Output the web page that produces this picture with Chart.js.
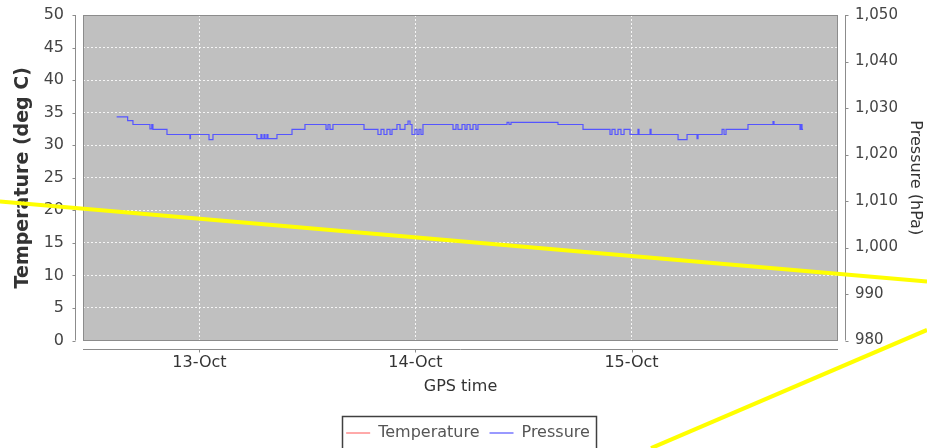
<!DOCTYPE html>
<html>
<head>
<meta charset="utf-8">
<script src="https://cdn.jsdelivr.net/npm/chart.js"></script>
<style>
  html, body { margin: 0; padding: 0; background: #fff; overflow: hidden; }
  canvas { display: block; }
</style>
</head>
<body>
<canvas id="myChart" width="927" height="448"></canvas>
<script>
// hours counted from 13-Oct 00:00
var tickHours = [0, 24, 48];
var tickLabels = ['13-Oct', '14-Oct', '15-Oct'];

var pressureHours = [-9.2, -7.98, -7.39, -5.5, -5.3, -5.17, -3.61, -1.06, -1.0, 1.06, 1.5,
    6.39, 6.83, 6.94, 7.17, 7.28, 7.5, 7.61, 8.61, 10.28, 11.72, 14.06, 14.28, 14.5, 14.83,
    18.28, 19.83, 20.17, 20.5, 20.83, 21.17, 21.39, 21.94, 22.28, 22.83, 23.17, 23.39, 23.61,
    23.94, 24.17, 24.39, 24.61, 24.83, 28.17, 28.5, 28.72, 29.17, 29.5, 29.72, 30.06, 30.39,
    30.72, 30.94, 34.17, 34.39, 34.61, 39.83, 42.61, 45.61, 45.83, 46.17, 46.5, 46.83, 47.17,
    47.83, 48.72, 48.83, 50.06, 50.17, 53.17, 54.17, 55.28, 55.39, 58.06, 58.28, 58.5, 60.94,
    63.72, 63.83, 66.72, 66.83, 66.94, 67.06];
var pressureHpa = [1028.1, 1027.3, 1026.45, 1025.5, 1026.45, 1025.4, 1024.3, 1023.4, 1024.3, 1023.2, 1024.3,
    1023.4, 1024.3, 1023.4, 1024.3, 1023.4, 1024.3, 1023.4, 1024.3, 1025.4, 1026.45, 1025.4, 1026.45, 1025.4, 1026.45,
    1025.4, 1024.3, 1025.4, 1024.3, 1025.4, 1024.3, 1025.4, 1026.45, 1025.4, 1026.45, 1027.2, 1026.45, 1024.3,
    1025.4, 1024.3, 1025.4, 1024.3, 1026.45, 1025.4, 1026.45, 1025.4, 1026.45, 1025.4, 1026.45, 1025.4, 1026.45,
    1025.4, 1026.45, 1026.9, 1026.45, 1026.9, 1026.45, 1025.4, 1024.3, 1025.4, 1024.3, 1025.4, 1024.3, 1025.4,
    1024.3, 1025.4, 1024.3, 1025.4, 1024.3, 1023.2, 1024.3, 1023.4, 1024.3, 1025.4, 1024.3, 1025.4, 1026.45,
    1027.1, 1026.45, 1025.4, 1026.45, 1025.4, 1025.4];

var temperatureHours = [];
var temperatureDegC = [];

// yellow strokes drawn over the picture
var markHoursA = [-22.17, 80.83];
var markDegCA = [21.35, 9.05];
var markHoursB = [50.17, 80.83];
var markDegCB = [-16.54, 1.62];

function toPoints(xs, ys) {
    return xs.map(function (x, i) { return { x: x, y: ys[i] }; });
}

var fontFamily = '"DejaVu Sans", sans-serif';
var gridColor = 'rgba(255,255,255,0.85)';

var plotFrame = {
    id: 'plotFrame',
    beforeDraw: function (chart) {
        var ctx = chart.ctx, a = chart.chartArea;
        ctx.save();
        ctx.fillStyle = '#ffffff';
        ctx.fillRect(0, 0, chart.width, chart.height);
        ctx.fillStyle = '#c0c0c0';
        ctx.fillRect(a.left, a.top, a.right - a.left, a.bottom - a.top);
        ctx.restore();
    },
    beforeDatasetsDraw: function (chart) {
        var ctx = chart.ctx, a = chart.chartArea, s = chart.scales, gap = 8;
        ctx.save();
        ctx.strokeStyle = '#8c8c8c';
        ctx.lineWidth = 1;
        ctx.strokeRect(Math.round(a.left) + 0.5, Math.round(a.top) + 0.5,
            Math.round(a.right - a.left) - 1, Math.round(a.bottom - a.top) - 1);

        ctx.beginPath();
        var lx = Math.round(a.left - gap) + 0.5;
        ctx.moveTo(lx, a.top); ctx.lineTo(lx, a.bottom);
        s.y.ticks.forEach(function (t) {
            var py = Math.round(s.y.getPixelForValue(t.value)) + 0.5;
            ctx.moveTo(lx - 3, py); ctx.lineTo(lx, py);
        });
        var rx = Math.round(a.right + gap) - 0.5;
        ctx.moveTo(rx, a.top); ctx.lineTo(rx, a.bottom);
        s.y1.ticks.forEach(function (t) {
            var py = Math.round(s.y1.getPixelForValue(t.value)) + 0.5;
            ctx.moveTo(rx, py); ctx.lineTo(rx + 3, py);
        });
        var by = Math.round(a.bottom + gap) + 0.5;
        ctx.moveTo(a.left, by); ctx.lineTo(a.right, by);
        s.x.ticks.forEach(function (t) {
            var px = Math.round(s.x.getPixelForValue(t.value)) + 0.5;
            ctx.moveTo(px, by); ctx.lineTo(px, by + 3);
        });
        ctx.stroke();

        // frame round the legend
        var boxes = chart.legend && chart.legend.legendHitBoxes;
        if (boxes && boxes.length) {
            var first = boxes[0], last = boxes[boxes.length - 1];
            var l = first.left - 4, r = last.left + last.width + 6.5, t = first.top - 9.5;
            ctx.strokeStyle = '#404040';
            ctx.lineWidth = 1.5;
            ctx.strokeRect(Math.round(l) + 0.5, Math.round(t) + 0.5, Math.round(r - l), chart.height - t + 10);
        }
        ctx.restore();
    }
};

new Chart(document.getElementById('myChart'), {
    type: 'line',
    data: {
        datasets: [{
            label: 'Temperature',
            data: toPoints(temperatureHours, temperatureDegC),
            borderColor: '#ff5555',
            backgroundColor: '#ff5555',
            borderWidth: 1,
            pointRadius: 0,
            yAxisID: 'y'
        }, {
            label: 'Pressure',
            data: toPoints(pressureHours, pressureHpa),
            borderColor: '#5555ff',
            backgroundColor: '#5555ff',
            borderWidth: 1.2,
            pointRadius: 0,
            stepped: true,
            yAxisID: 'y1'
        }, {
            label: 'markA',
            data: toPoints(markHoursA, markDegCA),
            borderColor: '#ffff00',
            borderWidth: 4,
            pointRadius: 0,
            clip: false,
            yAxisID: 'y'
        }, {
            label: 'markB',
            data: toPoints(markHoursB, markDegCB),
            borderColor: '#ffff00',
            borderWidth: 4,
            pointRadius: 0,
            clip: false,
            yAxisID: 'y'
        }]
    },
    options: {
        responsive: false,
        animation: false,
        events: [],
        layout: { autoPadding: false, padding: { left: 9, right: 0, top: 15, bottom: -3 } },
        plugins: {
            tooltip: { enabled: false },
            legend: {
                position: 'bottom',
                labels: {
                    usePointStyle: true,
                    pointStyle: 'line',
                    pointStyleWidth: 24,
                    padding: 10,
                    color: '#555',
                    font: { family: fontFamily, size: 16 },
                    filter: function (item) { return item.datasetIndex < 2; }
                }
            }
        },
        scales: {
            x: {
                type: 'linear',
                position: 'bottom',
                min: -12.94,
                max: 70.94,
                afterBuildTicks: function (scale) {
                    scale.ticks = tickHours.map(function (v) { return { value: v }; });
                },
                afterFit: function (scale) {
                    scale.height = 74.5;
                    scale.paddingLeft = 0;
                    scale.paddingRight = 0;
                },
                ticks: {
                    autoSkip: false,
                    maxRotation: 0,
                    padding: 13,
                    color: '#333',
                    font: { family: fontFamily, size: 16 },
                    callback: function (v) {
                        var i = tickHours.indexOf(v);
                        return i >= 0 ? tickLabels[i] : '';
                    }
                },
                grid: { color: gridColor, lineWidth: 1, drawTicks: false },
                border: { display: false, dash: [2, 2] },
                title: {
                    display: true,
                    text: 'GPS time',
                    color: '#333',
                    font: { family: fontFamily, size: 16 },
                    padding: { top: 5, bottom: 18.4 }
                }
            },
            y: {
                position: 'left',
                min: 0,
                max: 50,
                afterFit: function (scale) {
                    scale.width = 74;
                    scale.paddingTop = 0;
                    scale.paddingBottom = 0;
                },
                ticks: {
                    stepSize: 5,
                    padding: 19,
                    color: '#444',
                    font: { family: fontFamily, size: 16 }
                },
                grid: { color: gridColor, lineWidth: 1, drawTicks: false },
                border: { display: false, dash: [2, 2] },
                title: {
                    display: true,
                    text: 'Temperature (deg C)',
                    color: '#333',
                    font: { family: fontFamily, size: 19, weight: 'bold' },
                    padding: { top: 2.6, bottom: 8 }
                }
            },
            y1: {
                position: 'right',
                min: 980,
                max: 1050,
                afterFit: function (scale) {
                    scale.width = 89;
                    scale.paddingTop = 0;
                    scale.paddingBottom = 0;
                },
                ticks: {
                    stepSize: 10,
                    padding: 17,
                    color: '#444',
                    font: { family: fontFamily, size: 15 }
                },
                grid: { drawOnChartArea: false, drawTicks: false },
                border: { display: false },
                title: {
                    display: true,
                    text: 'Pressure (hPa)',
                    color: '#333',
                    font: { family: fontFamily, size: 16 },
                    padding: { top: 2.4, bottom: 8.5 }
                }
            }
        }
    },
    plugins: [plotFrame]
});
</script>
</body>
</html>
